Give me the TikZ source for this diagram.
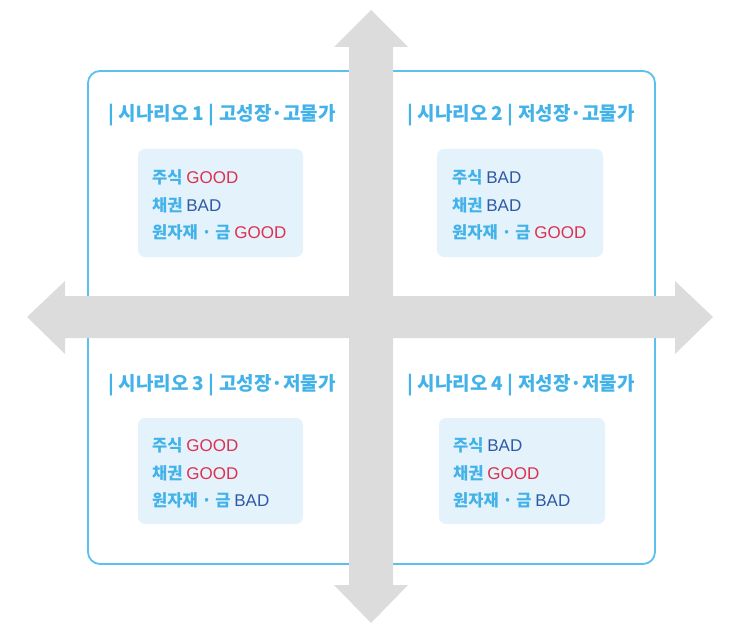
\documentclass[tikz,border=0pt]{standalone}
\usepackage{fontspec}
\setmainfont{Noto Sans CJK KR}
\newfontfamily\latinfont{Liberation Sans}
\newcommand{\KqTot}{{\latinfont\mdseries\fontsize{17}{20}\selectfont\color{MauTot}GOOD}}
\newcommand{\KqXau}{{\latinfont\mdseries\fontsize{17}{20}\selectfont\color{MauXau}BAD}}

\begin{document}
\begin{tikzpicture}[
		x=1pt, y=-1pt,
		every node/.style={inner sep=0pt},
		tieude/.style={font=\fontsize{19}{22}\selectfont\bfseries, text=MauChu},
		dong/.style={anchor=west, font=\fontsize{16.5}{20}\selectfont\bfseries, text=MauChu}
	]
		\definecolor{MauMuiTen}{RGB}{220,220,220}
		\definecolor{MauKhung}{RGB}{90,192,238}
		\definecolor{MauO}{RGB}{228,242,252}
		\definecolor{MauChu}{RGB}{66,178,232}
		\definecolor{MauTot}{RGB}{222,48,78}
		\definecolor{MauXau}{RGB}{46,90,164}
		\useasboundingbox (0,0) rectangle (743,628);
		% khung bon kich ban
		\draw[MauKhung,line width=1.8pt,rounded corners=12pt]
			(88,71) rectangle (360,317);
		\draw[MauKhung,line width=1.8pt,rounded corners=12pt]
			(382,71) rectangle (655,317);
		\draw[MauKhung,line width=1.8pt,rounded corners=12pt]
			(88,317) rectangle (360,564);
		\draw[MauKhung,line width=1.8pt,rounded corners=12pt]
			(382,317) rectangle (655,564);
		% o ket qua
		\fill[MauO,rounded corners=7pt] (138,149) rectangle (303,257);
		\fill[MauO,rounded corners=7pt] (437,149) rectangle (603,257);
		\fill[MauO,rounded corners=7pt] (138,418) rectangle (303,524);
		\fill[MauO,rounded corners=7pt] (439,418) rectangle (605,524);
		% mui ten hai chieu
		\fill[MauMuiTen] (371,10) -- (408,47) -- (393,47) -- (393,585)
			-- (408,585) -- (371,623) -- (334,585) -- (349,585)
			-- (349,47) -- (334,47) -- cycle;
		\fill[MauMuiTen] (27,317) -- (65,281) -- (65,296) -- (675,296)
			-- (675,281) -- (713,317) -- (675,354) -- (675,338)
			-- (65,338) -- (65,354) -- cycle;
		% kich ban 1
		\node[tieude] (tieude1) at (222,115)
			{| 시나리오 1 | 고성장·고물가};
		\node[dong] (kb1a) at (152,177) {주식 \KqTot};
		\node[dong] (kb1b) at (152,205) {채권 \KqXau};
		\node[dong] (kb1c) at (152,232) {원자재 · 금 \KqTot};
		% kich ban 2
		\node[tieude] (tieude2) at (521,115)
			{| 시나리오 2 | 저성장·고물가};
		\node[dong] (kb2a) at (452,177) {주식 \KqXau};
		\node[dong] (kb2b) at (452,205) {채권 \KqXau};
		\node[dong] (kb2c) at (452,232) {원자재 · 금 \KqTot};
		% kich ban 3
		\node[tieude] (tieude3) at (222,385)
			{| 시나리오 3 | 고성장·저물가};
		\node[dong] (kb3a) at (152,445) {주식 \KqTot};
		\node[dong] (kb3b) at (152,473) {채권 \KqTot};
		\node[dong] (kb3c) at (152,500) {원자재 · 금 \KqXau};
		% kich ban 4
		\node[tieude] (tieude4) at (521,385)
			{| 시나리오 4 | 저성장·저물가};
		\node[dong] (kb4a) at (453,445) {주식 \KqXau};
		\node[dong] (kb4b) at (453,473) {채권 \KqTot};
		\node[dong] (kb4c) at (453,500) {원자재 · 금 \KqXau};
	\end{tikzpicture}
\end{document}
